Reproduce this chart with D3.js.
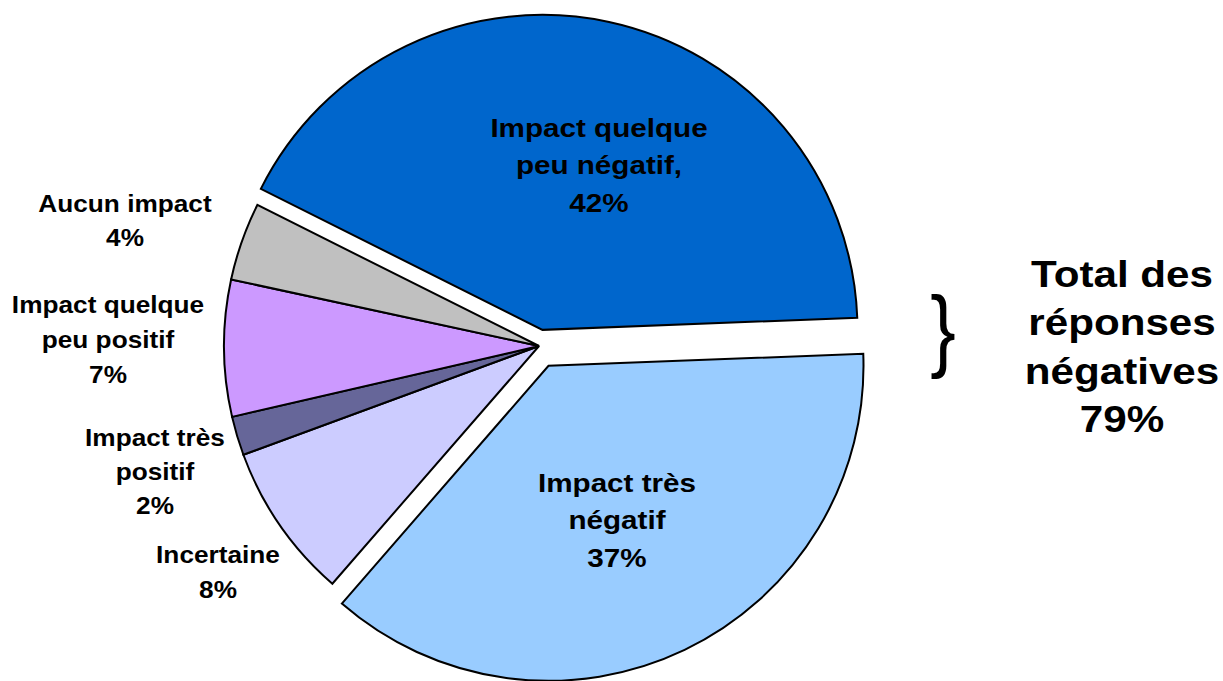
<!DOCTYPE html>
<html lang="fr">
<head>
<meta charset="utf-8">
<script src="https://cdn.jsdelivr.net/npm/d3@7"></script>
<style>
  html, body { margin: 0; padding: 0; background: #fff; }
  svg { display: block; }
  text { font-family: "Liberation Sans", Arial, sans-serif; font-weight: bold; fill: #000; }
</style>
</head>
<body>
<svg id="chart" width="1223" height="681"></svg>
<script>
// Survey answers, in the order the slices run clockwise
const categories = [
  "Impact quelque peu négatif",
  "Impact très négatif",
  "Incertaine",
  "Impact très positif",
  "Impact quelque peu positif",
  "Aucun impact"
];
const values = [42, 37, 8, 2, 7, 4];
const labelLines = [
  ["Impact quelque", "peu négatif,"],
  ["Impact très", "négatif"],
  ["Incertaine"],
  ["Impact très", "positif"],
  ["Impact quelque", "peu positif"],
  ["Aucun impact"]
];
const negativeIdx = [0, 1];
const totalLines = ["Total des", "réponses", "négatives"];

// Styling
const colors = ["#0066CC", "#99CCFF", "#CCCCFF", "#666699", "#CC99FF", "#C0C0C0"];
const explode = [16.5, 22, 0, 0, 0, 0];

// Layout
const cx = 539, cy = 346, radius = 315;
const startDeg = -63.4;
const textStretch = 1.14;
// label anchor: x centre, first baseline, line step, font size
const labelLayout = [
  { x: 599, y: 137, step: 37.5, size: 26 },
  { x: 617, y: 492, step: 37.5, size: 26 },
  { x: 218, y: 563, step: 35, size: 23 },
  { x: 155, y: 446, step: 34, size: 23 },
  { x: 108, y: 313, step: 35, size: 23 },
  { x: 125, y: 212, step: 34, size: 23 }
];

const svg = d3.select("#chart");

const pie = d3.pie()
  .sort(null)
  .value(d => d)
  .startAngle(startDeg * Math.PI / 180)
  .endAngle(startDeg * Math.PI / 180 + 2 * Math.PI);

const arc = d3.arc().innerRadius(0).outerRadius(radius);
const arcs = pie(values);

const g = svg.append("g").attr("transform", `translate(${cx},${cy})`);

g.selectAll("path.slice")
  .data(arcs)
  .join("path")
  .attr("class", "slice")
  .attr("d", arc)
  .attr("transform", (d, i) => {
    const mid = (d.startAngle + d.endAngle) / 2;
    return `translate(${explode[i] * Math.sin(mid)},${-explode[i] * Math.cos(mid)})`;
  })
  .attr("fill", (d, i) => colors[i])
  .attr("stroke", "#000")
  .attr("stroke-width", 2)
  .attr("stroke-linejoin", "miter");

// Slice labels: name lines followed by the percentage
arcs.forEach((d, i) => {
  const L = labelLayout[i];
  const lines = labelLines[i].concat([values[i] + "%"]);
  const t = svg.append("text")
    .attr("transform", `translate(${L.x},${L.y}) scale(${textStretch},1)`)
    .attr("text-anchor", "middle")
    .style("font-size", L.size + "px");
  lines.forEach((s, k) => {
    t.append("tspan").attr("x", 0).attr("y", k * L.step).text(s);
  });
});

// Brace and total of the negative answers
const totalNeg = d3.sum(negativeIdx, i => values[i]);

svg.append("text")
  .attr("transform", `translate(943,360) scale(0.85,1)`)
  .attr("text-anchor", "middle")
  .style("font-weight", "normal")
  .style("font-size", "90px")
  .text("}");

const tt = svg.append("text")
  .attr("transform", `translate(1122,287) scale(${textStretch},1)`)
  .attr("text-anchor", "middle")
  .style("font-size", "37px");
totalLines.concat([totalNeg + "%"]).forEach((s, k) => {
  tt.append("tspan").attr("x", 0).attr("y", k * 48.5).text(s);
});
</script>
</body>
</html>
